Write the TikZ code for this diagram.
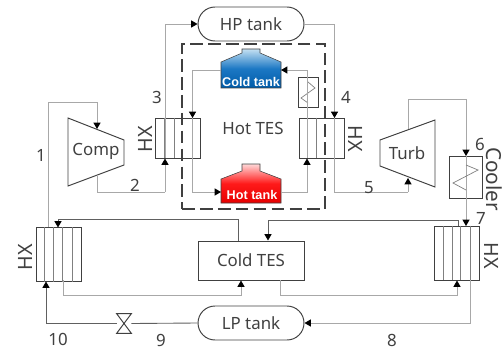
\documentclass[tikz,border=0pt]{standalone}
\usepackage{fontspec}
\setmainfont{Noto Sans}
\newfontfamily\tankfont{Liberation Sans}
\definecolor{PIPEgray}{HTML}{A8A8A8}
\definecolor{PIPEdark}{HTML}{606060}
\definecolor{STRIPgray}{HTML}{808080}
\definecolor{LINEdark}{HTML}{404040}
\definecolor{COLDlight}{HTML}{C4E0F2}
\definecolor{COLDmid}{HTML}{1C78C4}
\definecolor{COLDdeep}{HTML}{005BA8}
\definecolor{HOTlight}{HTML}{FFD8D8}
\definecolor{HOTmid}{HTML}{FF1A1A}
\definecolor{HOTdeep}{HTML}{E60000}
\usetikzlibrary{arrows.meta, calc, positioning}

\begin{document}
\begin{tikzpicture}[x=0.02cm, y=-0.02cm,
      tankbox/.style={rectangle, rounded corners=0.34cm, draw=LINEdark, line width=0.55pt,
                  minimum width=2.12cm, minimum height=0.68cm, font=\fontsize{9.6}{11}\selectfont, text=LINEdark},
      tesbox/.style={rectangle, draw=LINEdark, line width=0.55pt, minimum width=2.12cm,
                  minimum height=0.78cm, font=\fontsize{9.6}{11}\selectfont, text=LINEdark},
      hxbox/.style={rectangle, draw=LINEdark, line width=0.55pt, minimum width=0.9cm, inner sep=0pt},
      hxtext/.style={font=\fontsize{9.6}{11}\selectfont, text=LINEdark},
      hxside/.style={font=\fontsize{11.2}{13}\selectfont, text=LINEdark, inner sep=0pt},
      num/.style={font=\fontsize{9.6}{11}\selectfont, text=LINEdark, inner sep=0pt},
      tanklabel/.style={font=\tankfont\bfseries\fontsize{7.2}{8}\selectfont, text=white, inner sep=0pt},
      part/.style={draw=LINEdark, line width=0.55pt},
      strip/.style={STRIPgray, line width=0.4pt},
      arr/.style={-{Triangle[length=3.6pt, width=4pt, color=black, fill=black]}, PIPEgray, line width=0.5pt},
      arrd/.style={-{Triangle[length=3.6pt, width=4pt, color=black, fill=black]}, PIPEdark, line width=0.5pt},
      pipe/.style={PIPEgray, line width=0.5pt},
      piped/.style={PIPEdark, line width=0.5pt}]
      \useasboundingbox (0,0) rectangle (502,351);
      % Hot TES frame
      \node[draw=LINEdark, dash pattern=on 7.2pt off 3pt, line width=0.85pt, minimum width=2.86cm,
            minimum height=3.3cm, inner sep=0pt] (hottes) at (253.5,126.5) {};
      \node[hxtext] (hottext) at (253,128) {Hot TES};
      % Tanks and storage
      \node[tankbox] (hp) at (251,24) {HP tank};
      \node[tankbox] (lp) at (251,323) {LP tank};
      \node[tesbox] (cold) at (251,260.5) {Cold TES};
      % Cold and hot tank
      \path[top color=COLDlight, bottom color=COLDdeep, middle color=COLDmid]
         (242,49) -- (260,49) -- (260,53) -- (281,62) -- (281,88) -- (221,88) -- (221,62) -- (242,53) -- cycle;
      \draw[part, line width=0.3pt] (242,53) -- (242,49) -- (260,49) -- (260,53) -- (281,62) -- (281,88) -- (221,88) -- (221,62) -- cycle;
      \node[tanklabel] (coldtank) at (251,82) {Cold tank};
      \path[top color=HOTlight, bottom color=HOTdeep, middle color=HOTmid]
         (242,164) -- (260,164) -- (260,171) -- (281,179) -- (281,203) -- (221,203) -- (221,179) -- (242,171) -- cycle;
      \draw[part, line width=0.3pt] (242,171) -- (242,164) -- (260,164) -- (260,171) -- (281,179) -- (281,203) -- (221,203) -- (221,179) -- cycle;
      \node[tanklabel] (hottank) at (252,195) {Hot tank};
      \coordinate (coldL) at (221,70);
      \coordinate (coldR) at (281,70);
      \coordinate (hotL) at (221,192);
      \coordinate (hotR) at (281,192);
      % Heat exchangers
      \node[hxbox, minimum height=0.8cm] (hxa) at (178,138) {};
      \node[hxbox, minimum height=0.8cm] (hxb) at (321.5,138) {};
      \node[hxbox, minimum height=1.08cm] (hxc) at (58.5,254.5) {};
      \node[hxbox, minimum height=1.08cm] (hxd) at (457,253) {};
      \foreach \hx/\dx in {hxa/9, hxa/19, hxa/37, hxb/9, hxb/18, hxb/36, hxc/9, hxc/18, hxc/27, hxc/37, hxd/9, hxd/18, hxd/26, hxd/36}
         \draw[strip] ([xshift=\dx*0.02cm]\hx.north west) -- ([xshift=\dx*0.02cm]\hx.south west);
      % Compressor and turbine
      \draw[part] (68,118) -- (124,140) -- (124,165) -- (68,186) -- cycle;
      \node[hxtext, inner sep=0pt] (comp) at (96,151) {Comp};
      \coordinate (compin) at (97,129);
      \coordinate (compout) at (97,175);
      \draw[part] (380,140) -- (435,120) -- (435,187) -- (380,166) -- cycle;
      \node[hxtext, inner sep=0pt] (turb) at (407,153) {Turb};
      \coordinate (turbin) at (408,178);
      \coordinate (turbout) at (408,129);
      % Cooler and small exchanger
      \node[rectangle, draw=LINEdark, line width=0.55pt, minimum width=0.66cm, minimum height=0.84cm, inner sep=0pt] (cooler) at (465.5,177) {};
      \node[rectangle, draw=LINEdark, line width=0.55pt, minimum width=0.4cm, minimum height=0.6cm, inner sep=0pt] (hexs) at (308,92) {};
      % Valve
      \node[inner sep=0pt, minimum width=0.28cm, minimum height=0.38cm] (valve) at (124,323.5) {};
      \draw[part] (valve.north west) -- (valve.north east) -- (valve.south west) -- (valve.south east) -- cycle;
      % Cycle lines
      \draw[pipe] (compout) |- (165,192);
      \draw[arr] (165,192) -- (165,158.5);
      \draw[arr] (165,158) |- (hp.west);
      \draw[arr] (hp.east) -| (334.5,118);
      \draw[pipe] (334.5,118) |- (408,192);
      \draw[arr] (408,192) -- (turbin);
      \draw[pipe] (turbout) |- (466,99);
      \draw[arr] (466,99) -- (466,156);
      \draw[arr] (466,156) -- (466,226);
      \draw[pipe] (470,280) |- (385,323);
      \draw[arr] (385,323) -- (lp.east);
      \draw[piped] (lp.west) -- (valve.east);
      \draw[arrd] (valve.west) -| (46,281.5);
      \draw[arr] (48,227) |- (97,102) -- (compin);
      % Zigzags of cooler and small exchanger
      \draw[STRIPgray, line width=0.4pt] (466,165) -- (478,170) -- (453,183) -- (466,190);
      \draw[STRIPgray, line width=0.4pt] (308,82) -- (315,88) -- (301,98) -- (308,103);
      % Hot TES lines
      \draw[arr] (coldL) -| (192.5,118);
      \draw[pipe] (192.5,118) -- (192.5,158);
      \draw[arr] (192.5,158) |- (hotL);
      \draw[arr] (hotR) -| (307,158.5);
      \draw[arr] (307,158) |- (coldR);
      % Cold TES lines
      \draw[piped] (238,241) |- (150,219);
      \draw[arrd] (150,219) -| (58,227.5);
      \draw[piped] (458,226) |- (300,220);
      \draw[arrd] (300,220) -| (268,240.5);
      \draw[pipe] (63,280) |- (150,295);
      \draw[arr] (150,295) -| (241,280.5);
      \draw[pipe] (280,280) |- (350,295);
      \draw[arr] (350,295) -| (457,280.5);
      % Labels
      \node[num] (n1) at (41,155) {1};
      \node[num] (n2) at (135,185) {2};
      \node[num] (n3) at (157,97) {3};
      \node[num] (n4) at (346,97) {4};
      \node[num] (n5) at (369,188) {5};
      \node[num] (n6) at (480,144) {6};
      \node[num] (n7) at (481,218) {7};
      \node[num] (n8) at (392,340) {8};
      \node[num] (n9) at (161,340) {9};
      \node[num] (n10) at (58,339) {10};
      \node[hxside, rotate=90] (hxatext) at (145,139) {HX};
      \node[hxside, rotate=-90] (hxbtext) at (356,139) {HX};
      \node[hxside, rotate=90] (hxctext) at (25,257) {HX};
      \node[hxside, rotate=-90] (hxdtext) at (492,256) {HX};
      \node[hxside, rotate=-90, font=\fontsize{11.8}{13}\selectfont] (coolertext) at (494,179) {Cooler};
\end{tikzpicture}
\end{document}
